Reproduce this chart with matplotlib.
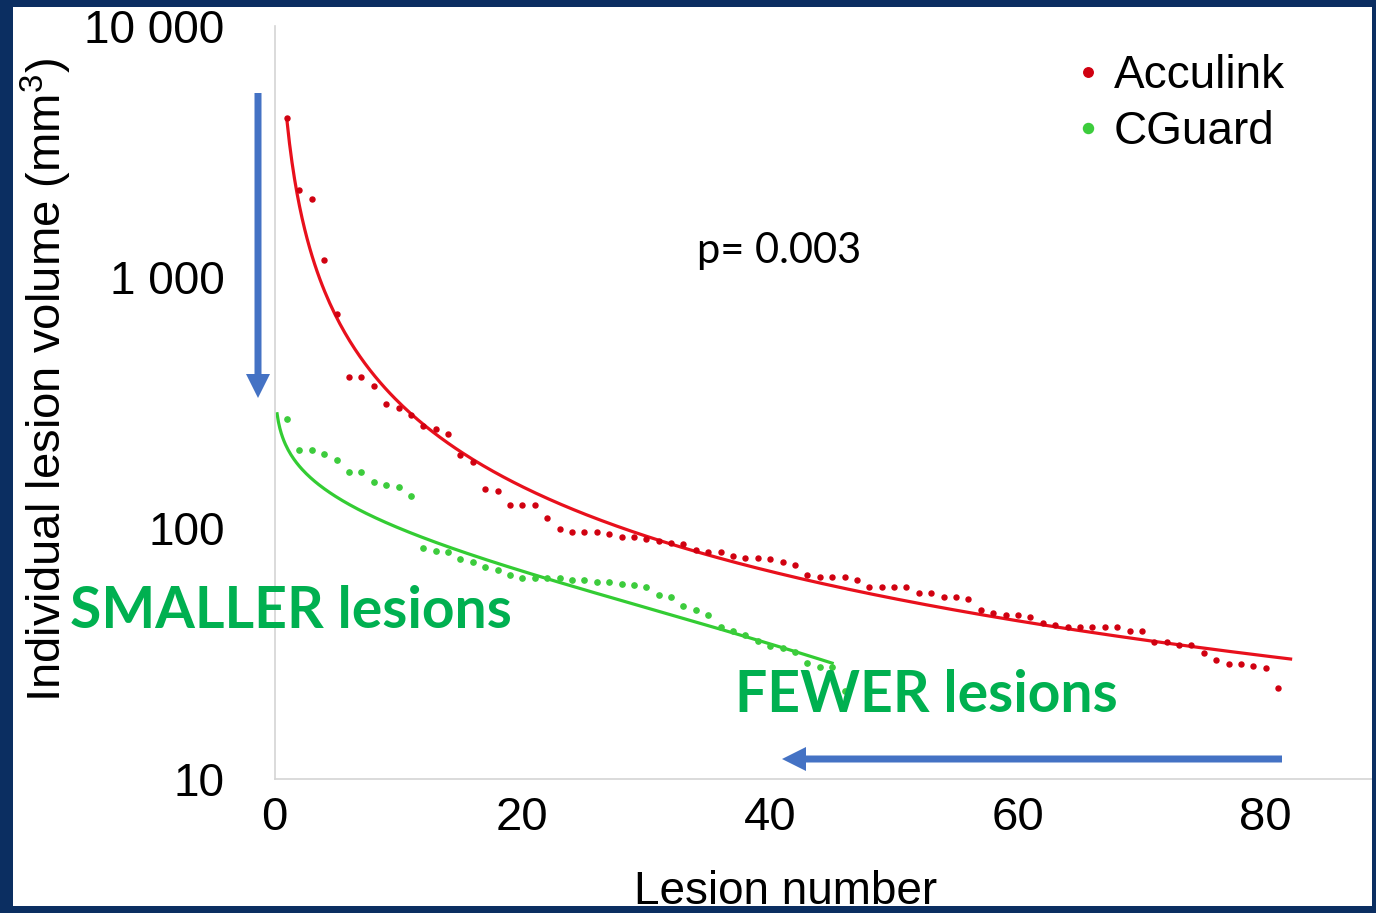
import numpy as np
import matplotlib.pyplot as plt
from matplotlib.patches import Rectangle, FancyArrow
from matplotlib.transforms import IdentityTransform
from matplotlib.ticker import NullLocator

# lesion volumes (mm3), sorted largest first
acculink_vol = [4300, 2230, 2040, 1170, 713, 401, 401, 369, 313, 302,
                281, 256, 247, 236, 195, 183, 143, 140, 124, 123,
                123, 110, 99, 96, 96, 96, 95, 92, 92, 90,
                89, 87, 86, 82, 80, 80, 77, 76, 76, 75,
                73, 71, 65, 64, 64, 64, 62, 58, 58, 58,
                58, 55, 55, 53, 53, 52, 47, 46, 45, 45,
                44, 42, 41, 40.5, 40.5, 40.5, 40.5, 40.5, 38.7, 38.7,
                35.3, 35, 34.3, 34.1, 31.9, 29.9, 28.6, 28.6, 28.1, 27.8,
                23]
cguard_vol = [271, 204, 204, 198, 186, 167, 167, 152, 149, 145,
              134, 83, 81, 80, 75, 73, 70, 68, 65, 63,
              63, 63, 63, 62, 62, 61, 61, 60, 59.5, 58,
              54, 53, 49, 47, 45, 40.5, 38.7, 37.6, 35.6, 34,
              33.4, 32.2, 29, 28, 28, 22.4]
series_names = ["Acculink", "CGuard"]

y_ticks = [10, 100, 1000, 10000]
y_ticklabels = ["10", "100", "1 000", "10 000"]
x_ticks = [0, 20, 40, 60, 80]

# trendlines as shown on the slide
acculink_trend_span = (1, 82)        # power fit of the Acculink points
cguard_trend_span = (0.2, 45)        # logarithmic trend: y = a + b*ln(x)
cguard_trend_a, cguard_trend_b = 209.0, -47.3

W, H = 1376, 913
NAVY = "#0b2e61"
RED_DOT, RED_LINE = "#d00010", "#e8101c"
GREEN_DOT, GREEN_LINE = "#3ccc3c", "#33cc33"
TXT_GREEN = "#00b050"
ARROW = "#4472c4"

plt.rcParams['font.family'] = ['Liberation Sans', 'DejaVu Sans']
plt.rcParams['mathtext.fontset'] = 'custom'
plt.rcParams['mathtext.rm'] = 'Liberation Sans'


def fx(px):
    return px / W


def fy(py):
    return 1 - py / H


fig = plt.figure(figsize=(W / 100, H / 100), dpi=100)
ax = fig.add_axes([fx(274.6), 134 / H, 89 * 12.39 / W, 753 / H])

xa = np.arange(1, len(acculink_vol) + 1)
xc = np.arange(1, len(cguard_vol) + 1)
ya = np.array(acculink_vol, dtype=float)
yc = np.array(cguard_vol, dtype=float)

ax.plot(xa, ya, 'o', ms=3.6, color=RED_DOT, label=series_names[0], zorder=3)
ax.plot(xc, yc, 'o', ms=3.8, color=GREEN_DOT, label=series_names[1], zorder=3)

# power trend for Acculink
pa = np.polyfit(np.log(xa), np.log(ya), 1)
tx = np.linspace(*acculink_trend_span, 400)
ax.plot(tx, np.exp(pa[1]) * tx ** pa[0], color=RED_LINE, lw=2.3, zorder=2)

# logarithmic trend for CGuard
tx = np.linspace(*cguard_trend_span, 400)
ax.plot(tx, cguard_trend_a + cguard_trend_b * np.log(tx), color=GREEN_LINE, lw=2.3, zorder=2)

ax.set_yscale('log')
ax.set_xlim(0, 89)
ax.set_ylim(10, 10000)
ax.set_yticks(y_ticks, labels=y_ticklabels)
ax.yaxis.set_minor_locator(NullLocator())
ax.set_xticks(x_ticks)
ax.tick_params(axis='both', length=0, labelsize=33)
ax.tick_params(axis='y', pad=36)
ax.tick_params(axis='x', pad=12, labelsize=34)
for s in ['top', 'right']:
    ax.spines[s].set_visible(False)
for s in ['left', 'bottom']:
    ax.spines[s].set_color('#d4d4d4')
    ax.spines[s].set_linewidth(1.2)

leg = ax.legend(loc='upper left', bbox_to_anchor=(fx(1070), fy(54)),
                bbox_transform=fig.transFigure, frameon=False, fontsize=33,
                handlelength=0.8, handletextpad=0.15, labelspacing=0.26,
                borderpad=0, borderaxespad=0, markerscale=1.9)

fig.text(fx(46), fy(380), "Individual lesion volume (mm$^3$)", rotation=90,
         ha='center', va='center', fontsize=34)
fig.text(fx(786), fy(904), "Lesion number", ha='center', va='baseline', fontsize=33)

fig.text(fx(697), fy(263), "p= 0.003", family='Lato', fontsize=30, ha='left', va='baseline')
fig.text(fx(70), fy(628), "SMALLER lesions", family='Lato', weight='bold',
         fontsize=41, color=TXT_GREEN, ha='left', va='baseline')
fig.text(fx(735), fy(712), "FEWER lesions", family='Lato', weight='bold',
         fontsize=41, color=TXT_GREEN, ha='left', va='baseline')

# blue arrows
for x0, y0, dx, dy in [(258, H - 93, 0, -305), (1282, H - 759, -500, 0)]:
    fig.add_artist(FancyArrow(x0, y0, dx, dy, width=7, head_width=24, head_length=24,
                              length_includes_head=True, color=ARROW, lw=0,
                              transform=IdentityTransform()))

# navy slide border
for r in [(0, 0, 13 / W, 1), (0, 0, 1, 7 / H), (0, 1 - 7 / H, 1, 7 / H), (1 - 4 / W, 0, 4 / W, 1)]:
    fig.add_artist(Rectangle(r[:2], r[2], r[3], transform=fig.transFigure,
                             color=NAVY, lw=0, zorder=10))

fig.savefig('out.png', dpi=100)
